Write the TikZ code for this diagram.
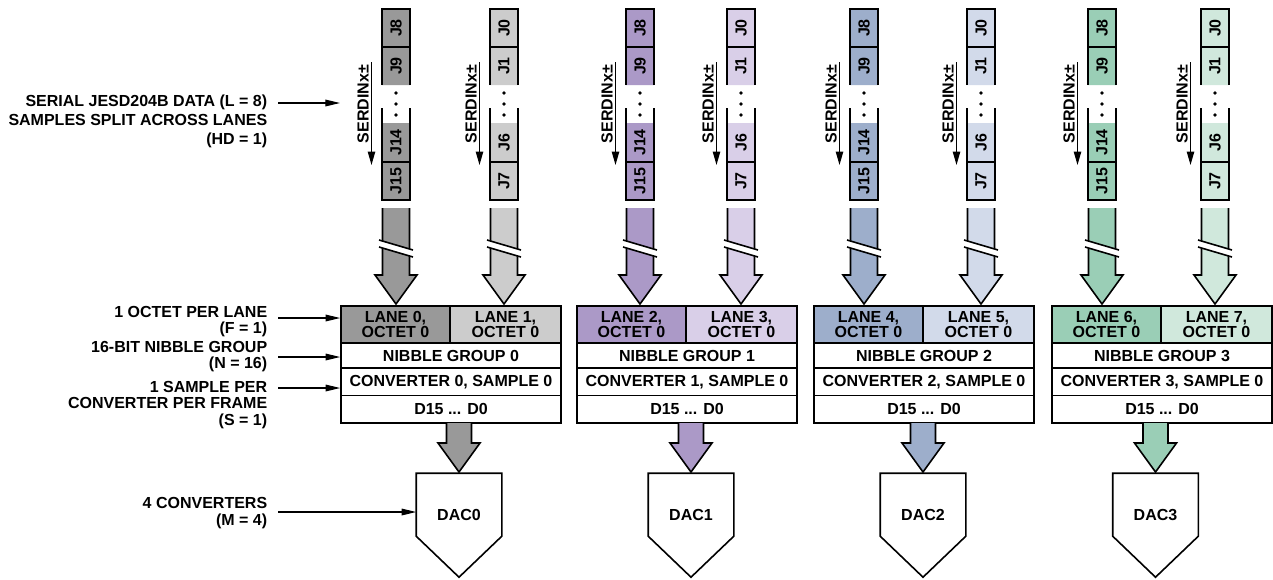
\documentclass[tikz,border=0pt]{standalone}
\usepackage{fontspec}
\setmainfont{Liberation Sans}
\usepackage{tikz}
\usetikzlibrary{arrows.meta,calc}
\usepackage{xcolor}
\definecolor{gdark}{HTML}{999999}
\definecolor{glight}{HTML}{CCCCCC}
\definecolor{pdark}{HTML}{AB99C7}
\definecolor{plight}{HTML}{D9CFE8}
\definecolor{bdark}{HTML}{9DAECB}
\definecolor{blight}{HTML}{D2DAEA}
\definecolor{ndark}{HTML}{9ACEB6}
\definecolor{nlight}{HTML}{D0E8DC}
\tikzset{
  cellbox/.style={draw, inner sep=0pt, align=center, minimum width=220*0.75pt, font=\bfseries\fontsize{12}{11.25}\selectfont},
  jlab/.style={rotate=90, inner sep=0pt, font=\bfseries\fontsize{12}{12}\selectfont},
  serd/.style={rotate=90, inner sep=0pt, font=\bfseries\fontsize{12}{12}\selectfont},
  lbl/.style={anchor=east, align=right, inner sep=0pt, font=\bfseries\fontsize{12}{12.4}\selectfont},
  dacbox/.style={inner sep=0pt, minimum width=84*0.75pt, minimum height=82*0.75pt, font=\bfseries\fontsize{12}{12}\selectfont},
  ptr/.style={-{Triangle[length=11pt, width=5pt]}, line width=0.9pt},
  sarr/.style={-{Triangle[length=10pt, width=5.5pt]}, line width=0.9pt},
}
% one serial lane: name, x, colour, four octet labels
\newcommand{\serlane}[7]{%
  \fill[#3] (#2-14,9) rectangle (#2+14,85) (#2-14,123) rectangle (#2+14,200);
  \draw (#2-14,85) -- (#2-14,9) -- (#2+14,9) -- (#2+14,85)
        (#2-14,108) -- (#2-14,200) -- (#2+14,200) -- (#2+14,108)
        (#2-14,47) -- (#2+14,47) (#2-14,162) -- (#2+14,162);
  \node[jlab] (#1a) at (#2,28) {#4};
  \node[jlab] (#1b) at (#2,66) {#5};
  \node[jlab] (#1c) at (#2,142.5) {#6};
  \node[jlab] (#1d) at (#2,181) {#7};
  \fill (#2,93) circle (1.8) (#2,104) circle (1.8) (#2,115) circle (1.8);
  \node[serd] (#1t) at (#2-33,104) {SERDINx±};
  \draw[sarr] (#2-24.5,62) -- (#2-24.5,165);
}
% block arrow: x, top, neck, tip, half shaft, colour
\newcommand{\fatarrow}[6]{%
  \filldraw[fill=#6] (#1-#5,#2) -- (#1-#5,#3) -- (#1-21,#3) -- (#1,#4) -- (#1+21,#3) -- (#1+#5,#3) -- (#1+#5,#2);
}
\newcommand{\brk}[1]{%
  \fill[white] (#1-17,240) -- (#1+17,250) -- (#1+17,257) -- (#1-17,247) -- cycle;
  \draw (#1-17,240) -- (#1+17,250) (#1-17,247) -- (#1+17,257);
}
% group, left, x dark lane, x light lane, x dac, dark, light, lane, lane
\newcommand{\lanegroup}[9]{%
  \serlane{s#8}{#3}{#6}{J8}{J9}{J14}{J15}
  \serlane{s#9}{#4}{#7}{J0}{J1}{J6}{J7}
  \fatarrow{#3}{208}{275}{304}{13.5}{#6} \brk{#3}
  \fatarrow{#4}{208}{275}{304}{13.5}{#7} \brk{#4}
  \node[cellbox, fill=#6, minimum width=109*0.75pt, minimum height=37*0.75pt] (g#1a) at (#2+54.5,324.5) {LANE #8,\\OCTET 0};
  \node[cellbox, fill=#7, minimum width=111*0.75pt, minimum height=37*0.75pt] (g#1b) at (#2+164.5,324.5) {LANE #9,\\OCTET 0};
  \node[cellbox, minimum height=25*0.75pt] (g#1n) at (#2+110,355.5) {NIBBLE GROUP #1};
  \node[cellbox, minimum height=27.5*0.75pt] (g#1c) at (#2+110,381.75) {CONVERTER #1, SAMPLE 0};
  \node[cellbox, minimum height=27.5*0.75pt] (g#1d) at (#2+110,409.25) {D15 ... D0};
  \fatarrow{#5}{423}{443}{472}{12.5}{#6}
  \node[dacbox] (dac#1) at (#5,515) {DAC#1};
  \draw (dac#1.north west) -- (dac#1.north east) -- ($(dac#1.north east)+(0,63)$)
        -- ($(dac#1.north)+(0,104)$) -- ($(dac#1.north west)+(0,63)$) -- cycle;
}
\begin{document}
\begin{tikzpicture}[x=0.75pt, y=-0.75pt, line width=1.2pt]
  \useasboundingbox (0,0) rectangle (1273,579);
  \lanegroup{0}{341}{396}{504}{459}{gdark}{glight}{0}{1}
  \lanegroup{1}{577}{640}{741}{691}{pdark}{plight}{2}{3}
  \lanegroup{2}{814}{864}{981}{923}{bdark}{blight}{4}{5}
  \lanegroup{3}{1052}{1102}{1215}{1155.5}{ndark}{nlight}{6}{7}
  % parameter notes on the left
  \node[lbl, font=\bfseries\fontsize{12}{14.25}\selectfont] (lbL) at (268,121) {SERIAL JESD204B DATA (L = 8)\\SAMPLES SPLIT ACROSS LANES\\(HD = 1)};
  \node[lbl] (lbF) at (268,321.5) {1 OCTET PER LANE\\(F = 1)};
  \node[lbl] (lbN) at (268,356.5) {16-BIT NIBBLE GROUP\\(N = 16)};
  \node[lbl] (lbS) at (268,405) {1 SAMPLE PER\\CONVERTER PER FRAME\\(S = 1)};
  \node[lbl] (lbM) at (268,513) {4 CONVERTERS\\(M = 4)};
  \coordinate (pL) at (278,103); \coordinate (tL) at (340,103);
  \coordinate (pF) at (278,318);
  \coordinate (pN) at (278,357);
  \coordinate (pS) at (278,388);
  \coordinate (pM) at (278,512);
  \draw[ptr] (pL) -- (tL);
  \draw[ptr] (pF) -- (pF -| g0a.west);
  \draw[ptr] (pN) -- (pN -| g0n.west);
  \draw[ptr] (pS) -- (pS -| g0c.west);
  \draw[ptr] (pM) -- (pM -| dac0.west);
\end{tikzpicture}
\end{document}
